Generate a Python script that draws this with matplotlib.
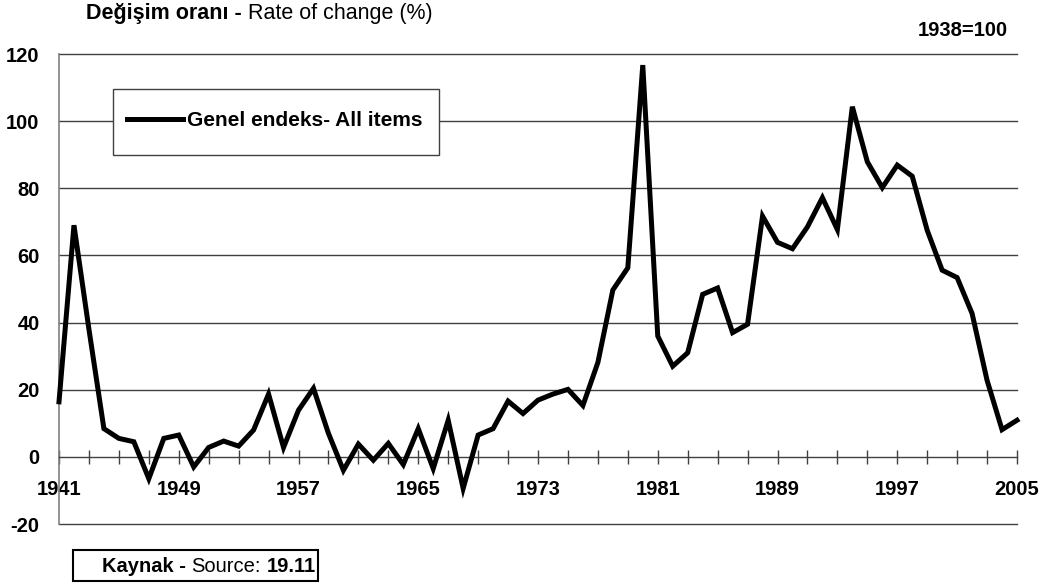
import matplotlib.pyplot as plt
import numpy as np
from matplotlib.ticker import FixedLocator

plt.rcParams['font.family'] = ['Liberation Sans', 'DejaVu Sans']

# Yillik degisim orani (%) - annual rate of change, 1938=100
years = np.arange(1941, 2006)
rate = [16.4, 69.0, 38.0, 8.4, 5.5, 4.5, -6.5, 5.5, 6.5, -3.0,
        2.8, 4.7, 3.2, 8.0, 18.7, 2.8, 13.9, 20.4, 7.0, -4.0,
        3.8, -1.0, 4.0, -2.3, 8.4, -3.5, 10.9, -9.4, 6.5, 8.4,
        16.6, 12.9, 16.9, 18.7, 20.1, 15.3, 28.1, 49.7, 56.3, 116.7,
        36.0, 27.0, 31.0, 48.4, 50.3, 37.0, 39.5, 71.7, 63.9, 62.0,
        68.5, 77.2, 67.7, 104.3, 87.9, 80.2, 86.9, 83.6, 67.5, 55.6,
        53.4, 42.7, 22.8, 8.1, 10.9]
label_years = [1941, 1949, 1957, 1965, 1973, 1981, 1989, 1997, 2005]
y_ticks = [-20, 0, 20, 40, 60, 80, 100, 120]

FS = 14.5
W, H = 1045, 584
fig = plt.figure(figsize=(W / 100, H / 100), dpi=100)
ax = fig.add_axes([59 / W, (H - 524) / H, (1017 - 59) / W, (524 - 54) / H])

ax.plot(years, rate, color='black', linewidth=3.6, solid_joinstyle='miter',
        label='Genel endeks- All items', clip_on=False, zorder=3)

ax.set_xlim(1941, 2005)
ax.set_ylim(-20, 120)

# horizontal gridlines
for v in y_ticks:
    if v != 0:
        ax.axhline(v, color='#404040', linewidth=1.0, zorder=1, clip_on=False)

for s in ['top', 'right']:
    ax.spines[s].set_visible(False)
ax.spines['left'].set_color('#808080')
ax.spines['left'].set_linewidth(1.2)
ax.spines['bottom'].set_position(('data', 0))
ax.spines['bottom'].set_color('#404040')
ax.spines['bottom'].set_linewidth(1.0)

ax.xaxis.set_major_locator(FixedLocator(label_years))
ax.xaxis.set_minor_locator(FixedLocator(np.arange(1941, 2006, 2)))
ax.tick_params(axis='x', which='both', direction='inout', length=10, width=1,
               color='#404040')
ax.tick_params(axis='x', which='major', pad=12, labelsize=FS)
ax.set_xticklabels([str(y) for y in label_years], fontweight='bold')

ax.set_yticks(y_ticks)
ax.set_yticklabels([str(v) for v in y_ticks], fontweight='bold')
ax.tick_params(axis='y', length=0, pad=14, labelsize=FS)

# legend box
ax.add_patch(plt.Rectangle((113 / W, (H - 155) / H), 326 / W, 66 / H,
                           transform=fig.transFigure, facecolor='white',
                           edgecolor='#404040', linewidth=1.0, zorder=4,
                           clip_on=False))
leg = ax.legend(loc='center left', bbox_to_anchor=(127 / W, (H - 121) / H),
                bbox_transform=fig.transFigure, frameon=False,
                handlelength=2.7, handletextpad=0.2,
                borderaxespad=0, borderpad=0,
                prop={'weight': 'bold', 'size': 15})
leg.set_zorder(5)

renderer = fig.canvas.get_renderer()


def run_text(x, y, parts, size):
    # write bold/normal pieces one after another on one line
    for txt, weight in parts:
        t = fig.text(x / W, 1 - y / H, txt, fontsize=size, fontweight=weight,
                     ha='left', va='center')
        bb = t.get_window_extent(renderer)
        x = bb.x1 + 0.28 * size * 1.389


# titles
run_text(86, 13, [('Değişim oranı -', 'bold'), ('Rate of change (%)', 'normal')], 15.5)
fig.text(1008 / W, 1 - 30 / H, '1938=100', fontsize=FS, fontweight='bold',
         ha='right', va='center')

# source box
fig.patches.append(plt.Rectangle((73 / W, (H - 581) / H), 245 / W, 31 / H,
                                 transform=fig.transFigure, fill=False,
                                 edgecolor='black', linewidth=1.5))
run_text(102, 566, [('Kaynak -', 'bold'), ('Source:', 'normal'), ('19.11', 'bold')], FS)

fig.savefig('out.png', dpi=100)
